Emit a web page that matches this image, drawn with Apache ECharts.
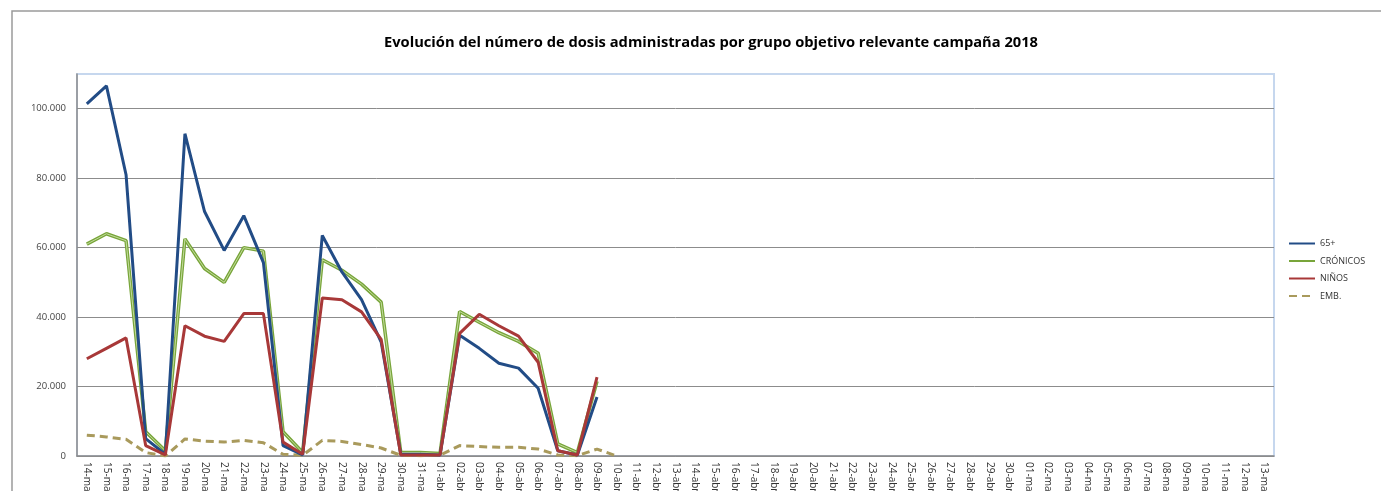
<!DOCTYPE html>
<html>
<head>
<meta charset="utf-8">
<script src="https://cdn.jsdelivr.net/npm/echarts@6/dist/echarts.min.js"></script>
<style>
    html, body { margin: 0; padding: 0; background: #fff; }
    #chart { width: 1381px; height: 491px; }
</style>
</head>
<body>
<div id="chart"></div>
<script>
// categorías (días de la campaña)
var dias = ['14-mar', '15-mar', '16-mar', '17-mar', '18-mar', '19-mar', '20-mar', '21-mar', '22-mar', '23-mar',
    '24-mar', '25-mar', '26-mar', '27-mar', '28-mar', '29-mar', '30-mar', '31-mar', '01-abr', '02-abr',
    '03-abr', '04-abr', '05-abr', '06-abr', '07-abr', '08-abr', '09-abr', '10-abr', '11-abr', '12-abr',
    '13-abr', '14-abr', '15-abr', '16-abr', '17-abr', '18-abr', '19-abr', '20-abr', '21-abr', '22-abr',
    '23-abr', '24-abr', '25-abr', '26-abr', '27-abr', '28-abr', '29-abr', '30-abr', '01-may', '02-may',
    '03-may', '04-may', '05-may', '06-may', '07-may', '08-may', '09-may', '10-may', '11-may', '12-may', '13-may']

// series (valores estimados del gráfico)
var mayores65 = [101400, 106600, 81000, 5000, 500, 92800, 70400, 59200, 69200, 55700,
    3000, 300, 63500, 53000, 45000, 32800, 500, 500, 300, 34800,
    31000, 26700, 25300, 19500, 1500, 300, 17000]
var cronicos = [61000, 64000, 62000, 7000, 1500, 62500, 54000, 50000, 60000, 59000,
    7000, 1000, 56500, 53500, 49500, 44300, 1000, 1000, 700, 41600,
    38500, 35500, 33000, 29600, 3500, 1000, 21500]
var ninos = [28000, 31000, 34000, 3000, 300, 37500, 34500, 33000, 41000, 41000,
    4000, 500, 45500, 45000, 41500, 33600, 300, 300, 300, 35300,
    40800, 37500, 34500, 27000, 1500, 300, 22700]
var emb = [6000, 5500, 4800, 1000, 0, 4900, 4300, 4000, 4500, 3800,
    500, 200, 4500, 4200, 3300, 2300, 200, 100, 200, 3000,
    2700, 2500, 2500, 2000, 300, 100, 2000, 0]

// ticks del eje y
var yMin = 0
var yMax = 110000
var yPaso = 20000

function miles(v) {
    if (v === yMax) return ''
    return String(v).replace(/\B(?=(\d{3})+(?!\d))/g, '.')
}

var myChart = echarts.init(document.getElementById('chart'))
var option = {
    backgroundColor: '#fff',
    animation: false,
    title: {
        text: 'Evolución del número de dosis administradas por grupo objetivo relevante campaña 2018',
        left: 706,
        top: 30,
        textAlign: 'center',
        textStyle: {
            fontFamily: 'Open Sans',
            fontWeight: 'bold',
            fontSize: 14.7,
            color: '#000'
        }
    },
    // marco exterior
    graphic: [{
        type: 'rect',
        shape: { x: 12, y: 11, width: 1400, height: 500 },
        style: { fill: 'none', stroke: '#9a9a9a', lineWidth: 1.5 },
        silent: true
    }],
    legend: {
        orient: 'vertical',
        left: 1283,
        top: 234,
        itemWidth: 26,
        itemHeight: 10,
        itemGap: 8.5,
        // sin circulitos en los iconos
        itemStyle: { opacity: 0 },
        textStyle: { fontFamily: 'Open Sans', fontSize: 9, color: '#333' },
        data: ['65+', 'CRÓNICOS', 'NIÑOS', 'EMB.']
    },
    grid: {
        left: 77,
        right: 107,
        top: 74,
        bottom: 35,
        outerBoundsMode: 'none',
        show: true,
        borderColor: '#c6d7ee',
        borderWidth: 2
    },
    xAxis: {
        type: 'category',
        data: dias,
        boundaryGap: true,
        axisLine: { lineStyle: { color: '#8c8c8c', width: 1.5 } },
        axisTick: { show: false },
        axisLabel: {
            rotate: -90,
            interval: 0,
            margin: 6,
            fontFamily: 'Open Sans',
            fontSize: 10,
            color: '#333'
        }
    },
    yAxis: {
        type: 'value',
        min: yMin,
        max: yMax,
        interval: yPaso,
        axisLine: { show: true, lineStyle: { color: '#8c8c8c', width: 1.5 } },
        axisTick: { show: false },
        axisLabel: {
            formatter: miles,
            margin: 11,
            fontFamily: 'Open Sans',
            fontSize: 9.5,
            color: '#444'
        },
        splitLine: {
            showMaxLine: false,
            lineStyle: { color: '#8c8c8c', width: 1 }
        }
    },
    series: [{
        name: '65+',
        type: 'line',
        data: mayores65,
        symbol: 'none',
        lineStyle: { color: '#224c86', width: 3 },
        itemStyle: { color: '#224c86' },
        z: 3
    }, {
        name: 'CRÓNICOS',
        type: 'line',
        data: cronicos,
        symbol: 'none',
        lineStyle: { color: '#78a53a', width: 3.5 },
        itemStyle: { color: '#78a53a' },
        z: 2
    }, {
        // brillo interior del doble trazo verde
        name: 'CRÓNICOS',
        type: 'line',
        data: cronicos,
        symbol: 'none',
        lineStyle: { color: '#c3dc9c', width: 1 },
        itemStyle: { color: '#78a53a' },
        z: 2
    }, {
        name: 'NIÑOS',
        type: 'line',
        data: ninos,
        symbol: 'none',
        lineStyle: { color: '#a83838', width: 3 },
        itemStyle: { color: '#a83838' },
        z: 4
    }, {
        name: 'EMB.',
        type: 'line',
        data: emb,
        symbol: 'none',
        lineStyle: { color: '#a99a5c', width: 3, type: [8, 5] },
        itemStyle: { color: '#a99a5c' },
        z: 1
    }]
}
myChart.setOption(option)
</script>
</body>
</html>
